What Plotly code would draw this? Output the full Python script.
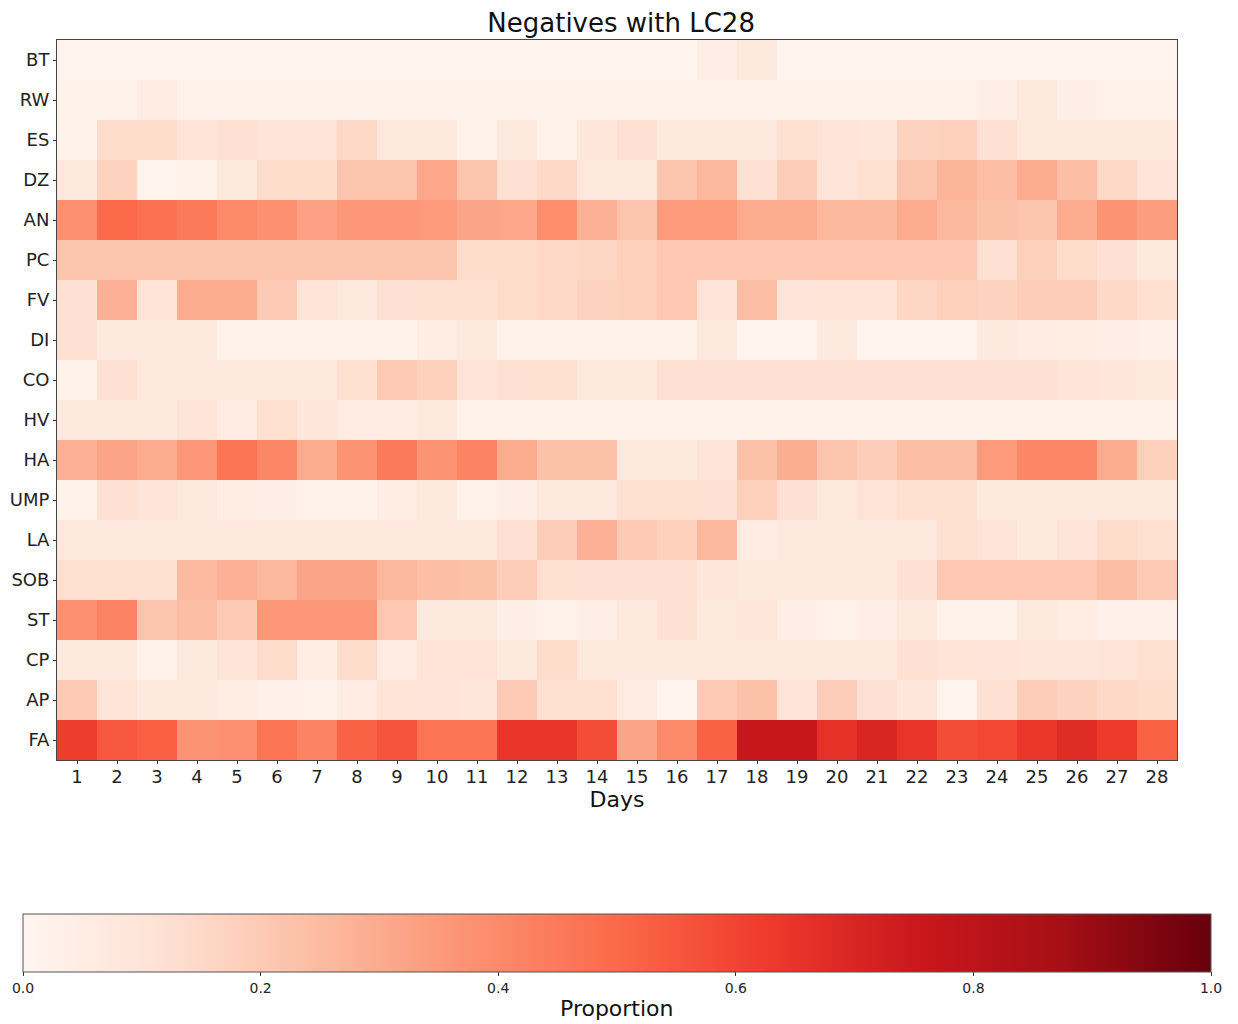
import plotly.graph_objects as go

days = list(range(1, 29))
categories = ["BT", "RW", "ES", "DZ", "AN", "PC", "FV", "DI", "CO", "HV",
              "HA", "UMP", "LA", "SOB", "ST", "CP", "AP", "FA"]

BT = [0.01, 0.01, 0.01, 0.01, 0.01, 0.01, 0.01, 0.01, 0.01, 0.01, 0.01, 0.01, 0.01, 0.01,
      0.01, 0.01, 0.04, 0.07, 0.01, 0.01, 0.01, 0.01, 0.01, 0.01, 0.01, 0.01, 0.01, 0.01]
RW = [0.02, 0.02, 0.06, 0.02, 0.02, 0.02, 0.02, 0.02, 0.02, 0.02, 0.02, 0.02, 0.02, 0.02,
      0.02, 0.02, 0.02, 0.02, 0.02, 0.02, 0.02, 0.02, 0.02, 0.04, 0.07, 0.04, 0.02, 0.02]
ES = [0.02, 0.14, 0.14, 0.11, 0.12, 0.10, 0.10, 0.15, 0.08, 0.07, 0.02, 0.07, 0.02, 0.09,
      0.12, 0.07, 0.07, 0.07, 0.13, 0.10, 0.09, 0.17, 0.18, 0.12, 0.08, 0.07, 0.07, 0.08]
DZ = [0.08, 0.17, 0.01, 0.02, 0.07, 0.14, 0.14, 0.22, 0.22, 0.31, 0.22, 0.12, 0.15, 0.08,
      0.08, 0.22, 0.26, 0.12, 0.19, 0.10, 0.13, 0.22, 0.27, 0.24, 0.30, 0.24, 0.15, 0.10]
AN = [0.38, 0.50, 0.48, 0.45, 0.40, 0.38, 0.33, 0.36, 0.36, 0.35, 0.32, 0.31, 0.39, 0.28,
      0.22, 0.35, 0.35, 0.30, 0.30, 0.26, 0.26, 0.30, 0.26, 0.23, 0.22, 0.30, 0.37, 0.34]
PC = [0.22, 0.22, 0.22, 0.22, 0.22, 0.22, 0.22, 0.22, 0.22, 0.22, 0.14, 0.14, 0.15, 0.16,
      0.18, 0.21, 0.21, 0.21, 0.21, 0.21, 0.21, 0.21, 0.21, 0.12, 0.18, 0.14, 0.12, 0.07]
FV = [0.12, 0.28, 0.11, 0.30, 0.30, 0.20, 0.11, 0.08, 0.12, 0.13, 0.13, 0.14, 0.15, 0.17,
      0.18, 0.21, 0.10, 0.24, 0.10, 0.11, 0.11, 0.16, 0.18, 0.17, 0.19, 0.19, 0.15, 0.13]
DI = [0.12, 0.07, 0.07, 0.07, 0.02, 0.02, 0.02, 0.02, 0.02, 0.05, 0.07, 0.02, 0.02, 0.02,
      0.02, 0.02, 0.07, 0.01, 0.01, 0.07, 0.01, 0.01, 0.01, 0.07, 0.06, 0.05, 0.04, 0.03]
CO = [0.02, 0.12, 0.08, 0.08, 0.08, 0.08, 0.08, 0.13, 0.20, 0.18, 0.10, 0.12, 0.13, 0.08,
      0.08, 0.12, 0.12, 0.12, 0.12, 0.12, 0.12, 0.12, 0.12, 0.12, 0.12, 0.10, 0.09, 0.08]
HV = [0.07, 0.07, 0.07, 0.10, 0.06, 0.13, 0.09, 0.06, 0.06, 0.07, 0.02, 0.02, 0.02, 0.02,
      0.02, 0.02, 0.02, 0.02, 0.02, 0.02, 0.02, 0.02, 0.02, 0.02, 0.02, 0.02, 0.02, 0.02]
HA = [0.28, 0.32, 0.30, 0.36, 0.47, 0.41, 0.30, 0.37, 0.45, 0.37, 0.42, 0.30, 0.23, 0.23,
      0.07, 0.07, 0.10, 0.23, 0.29, 0.22, 0.19, 0.24, 0.24, 0.35, 0.41, 0.41, 0.30, 0.18]
UMP = [0.02, 0.12, 0.10, 0.08, 0.05, 0.04, 0.02, 0.02, 0.05, 0.07, 0.02, 0.04, 0.07, 0.07,
       0.13, 0.13, 0.12, 0.18, 0.12, 0.08, 0.11, 0.13, 0.13, 0.07, 0.07, 0.07, 0.07, 0.07]
LA = [0.08, 0.08, 0.08, 0.08, 0.08, 0.08, 0.08, 0.08, 0.08, 0.08, 0.08, 0.12, 0.19, 0.28,
      0.20, 0.18, 0.26, 0.06, 0.07, 0.07, 0.07, 0.07, 0.13, 0.10, 0.07, 0.10, 0.14, 0.13]
SOB = [0.13, 0.13, 0.13, 0.25, 0.28, 0.26, 0.32, 0.32, 0.26, 0.24, 0.23, 0.19, 0.13, 0.12,
       0.12, 0.12, 0.09, 0.07, 0.07, 0.07, 0.07, 0.12, 0.21, 0.21, 0.21, 0.21, 0.24, 0.20]
ST = [0.38, 0.42, 0.22, 0.24, 0.20, 0.36, 0.36, 0.36, 0.21, 0.07, 0.07, 0.04, 0.02, 0.04,
      0.07, 0.12, 0.07, 0.09, 0.04, 0.02, 0.04, 0.07, 0.02, 0.02, 0.07, 0.05, 0.03, 0.03]
CP = [0.07, 0.07, 0.02, 0.07, 0.10, 0.14, 0.05, 0.14, 0.06, 0.11, 0.11, 0.07, 0.14, 0.07,
      0.07, 0.07, 0.07, 0.07, 0.07, 0.07, 0.07, 0.12, 0.11, 0.10, 0.09, 0.09, 0.10, 0.13]
AP = [0.20, 0.11, 0.07, 0.07, 0.05, 0.03, 0.02, 0.06, 0.11, 0.10, 0.09, 0.20, 0.13, 0.13,
      0.06, 0.01, 0.20, 0.23, 0.10, 0.19, 0.12, 0.09, 0.01, 0.12, 0.19, 0.17, 0.15, 0.14]
FA = [0.62, 0.55, 0.53, 0.37, 0.38, 0.47, 0.42, 0.52, 0.56, 0.47, 0.47, 0.65, 0.65, 0.58,
      0.32, 0.40, 0.52, 0.76, 0.76, 0.66, 0.70, 0.65, 0.58, 0.59, 0.64, 0.68, 0.63, 0.52]

z = [BT, RW, ES, DZ, AN, PC, FV, DI, CO, HV, HA, UMP, LA, SOB, ST, CP, AP, FA]

colorbar_ticks = [0.0, 0.2, 0.4, 0.6, 0.8, 1.0]

# matplotlib "Reds"
reds = [[0.0, "#fff5f0"], [0.125, "#fee0d2"], [0.25, "#fcbba1"], [0.375, "#fc9272"],
        [0.5, "#fb6a4a"], [0.625, "#ef3b2c"], [0.75, "#cb181d"], [0.875, "#a50f15"],
        [1.0, "#67000d"]]

FONT = "DejaVu Sans"
W, H = 1230, 1016   # page body has an 8px margin
PLOT_TOP, PLOT_H = 32, 720

fig = go.Figure(go.Heatmap(
    z=z, x=days, y=categories,
    colorscale=reds, zmin=0, zmax=1,
    colorbar=dict(
        orientation="h",
        x=0.5, xanchor="center",
        y=-154 / PLOT_H, yanchor="top",
        len=1188, lenmode="pixels",
        thickness=58, thicknessmode="pixels",
        xpad=0, ypad=0,
        outlinewidth=1, outlinecolor="#555555",
        tickvals=colorbar_ticks,
        ticktext=[f"{t:.1f}" for t in colorbar_ticks],
        ticks="outside", ticklen=4, tickcolor="#333333",
        tickfont=dict(family=FONT, size=14, color="#222222"),
    ),
    hovertemplate="Day %{x}<br>%{y}: %{z}<extra></extra>",
))

fig.update_layout(
    width=W, height=H,
    margin=dict(l=49, r=61, t=PLOT_TOP, b=H - PLOT_TOP - PLOT_H, autoexpand=False),
    paper_bgcolor="white", plot_bgcolor="white",
    title=dict(text="Negatives with LC28", x=0.4985, xanchor="center",
               y=1 - 15 / H, yanchor="middle", yref="container",
               font=dict(family=FONT, size=26, color="#111111")),
    font=dict(family=FONT, color="#222222"),
    annotations=[dict(text="Proportion", xref="paper", yref="paper",
                      x=0.5, y=-248 / PLOT_H, xanchor="center", yanchor="middle",
                      showarrow=False,
                      font=dict(family=FONT, size=22, color="#111111"))],
)

fig.update_xaxes(
    tickvals=days, ticktext=[str(d) for d in days],
    ticks="outside", ticklen=3, tickcolor="#333333",
    ticklabelstandoff=-3,
    tickfont=dict(family=FONT, size=18, color="#222222"),
    title=dict(text="Days", font=dict(family=FONT, size=22, color="#111111"), standoff=2),
    showline=True, linecolor="#444444", linewidth=1, mirror=True,
    showgrid=False, zeroline=False,
)
fig.update_yaxes(
    autorange="reversed",
    ticks="outside", ticklen=3, tickcolor="#333333",
    tickfont=dict(family=FONT, size=18, color="#222222"),
    showline=True, linecolor="#444444", linewidth=1, mirror=True,
    showgrid=False, zeroline=False,
)

fig.write_html("out.html")
